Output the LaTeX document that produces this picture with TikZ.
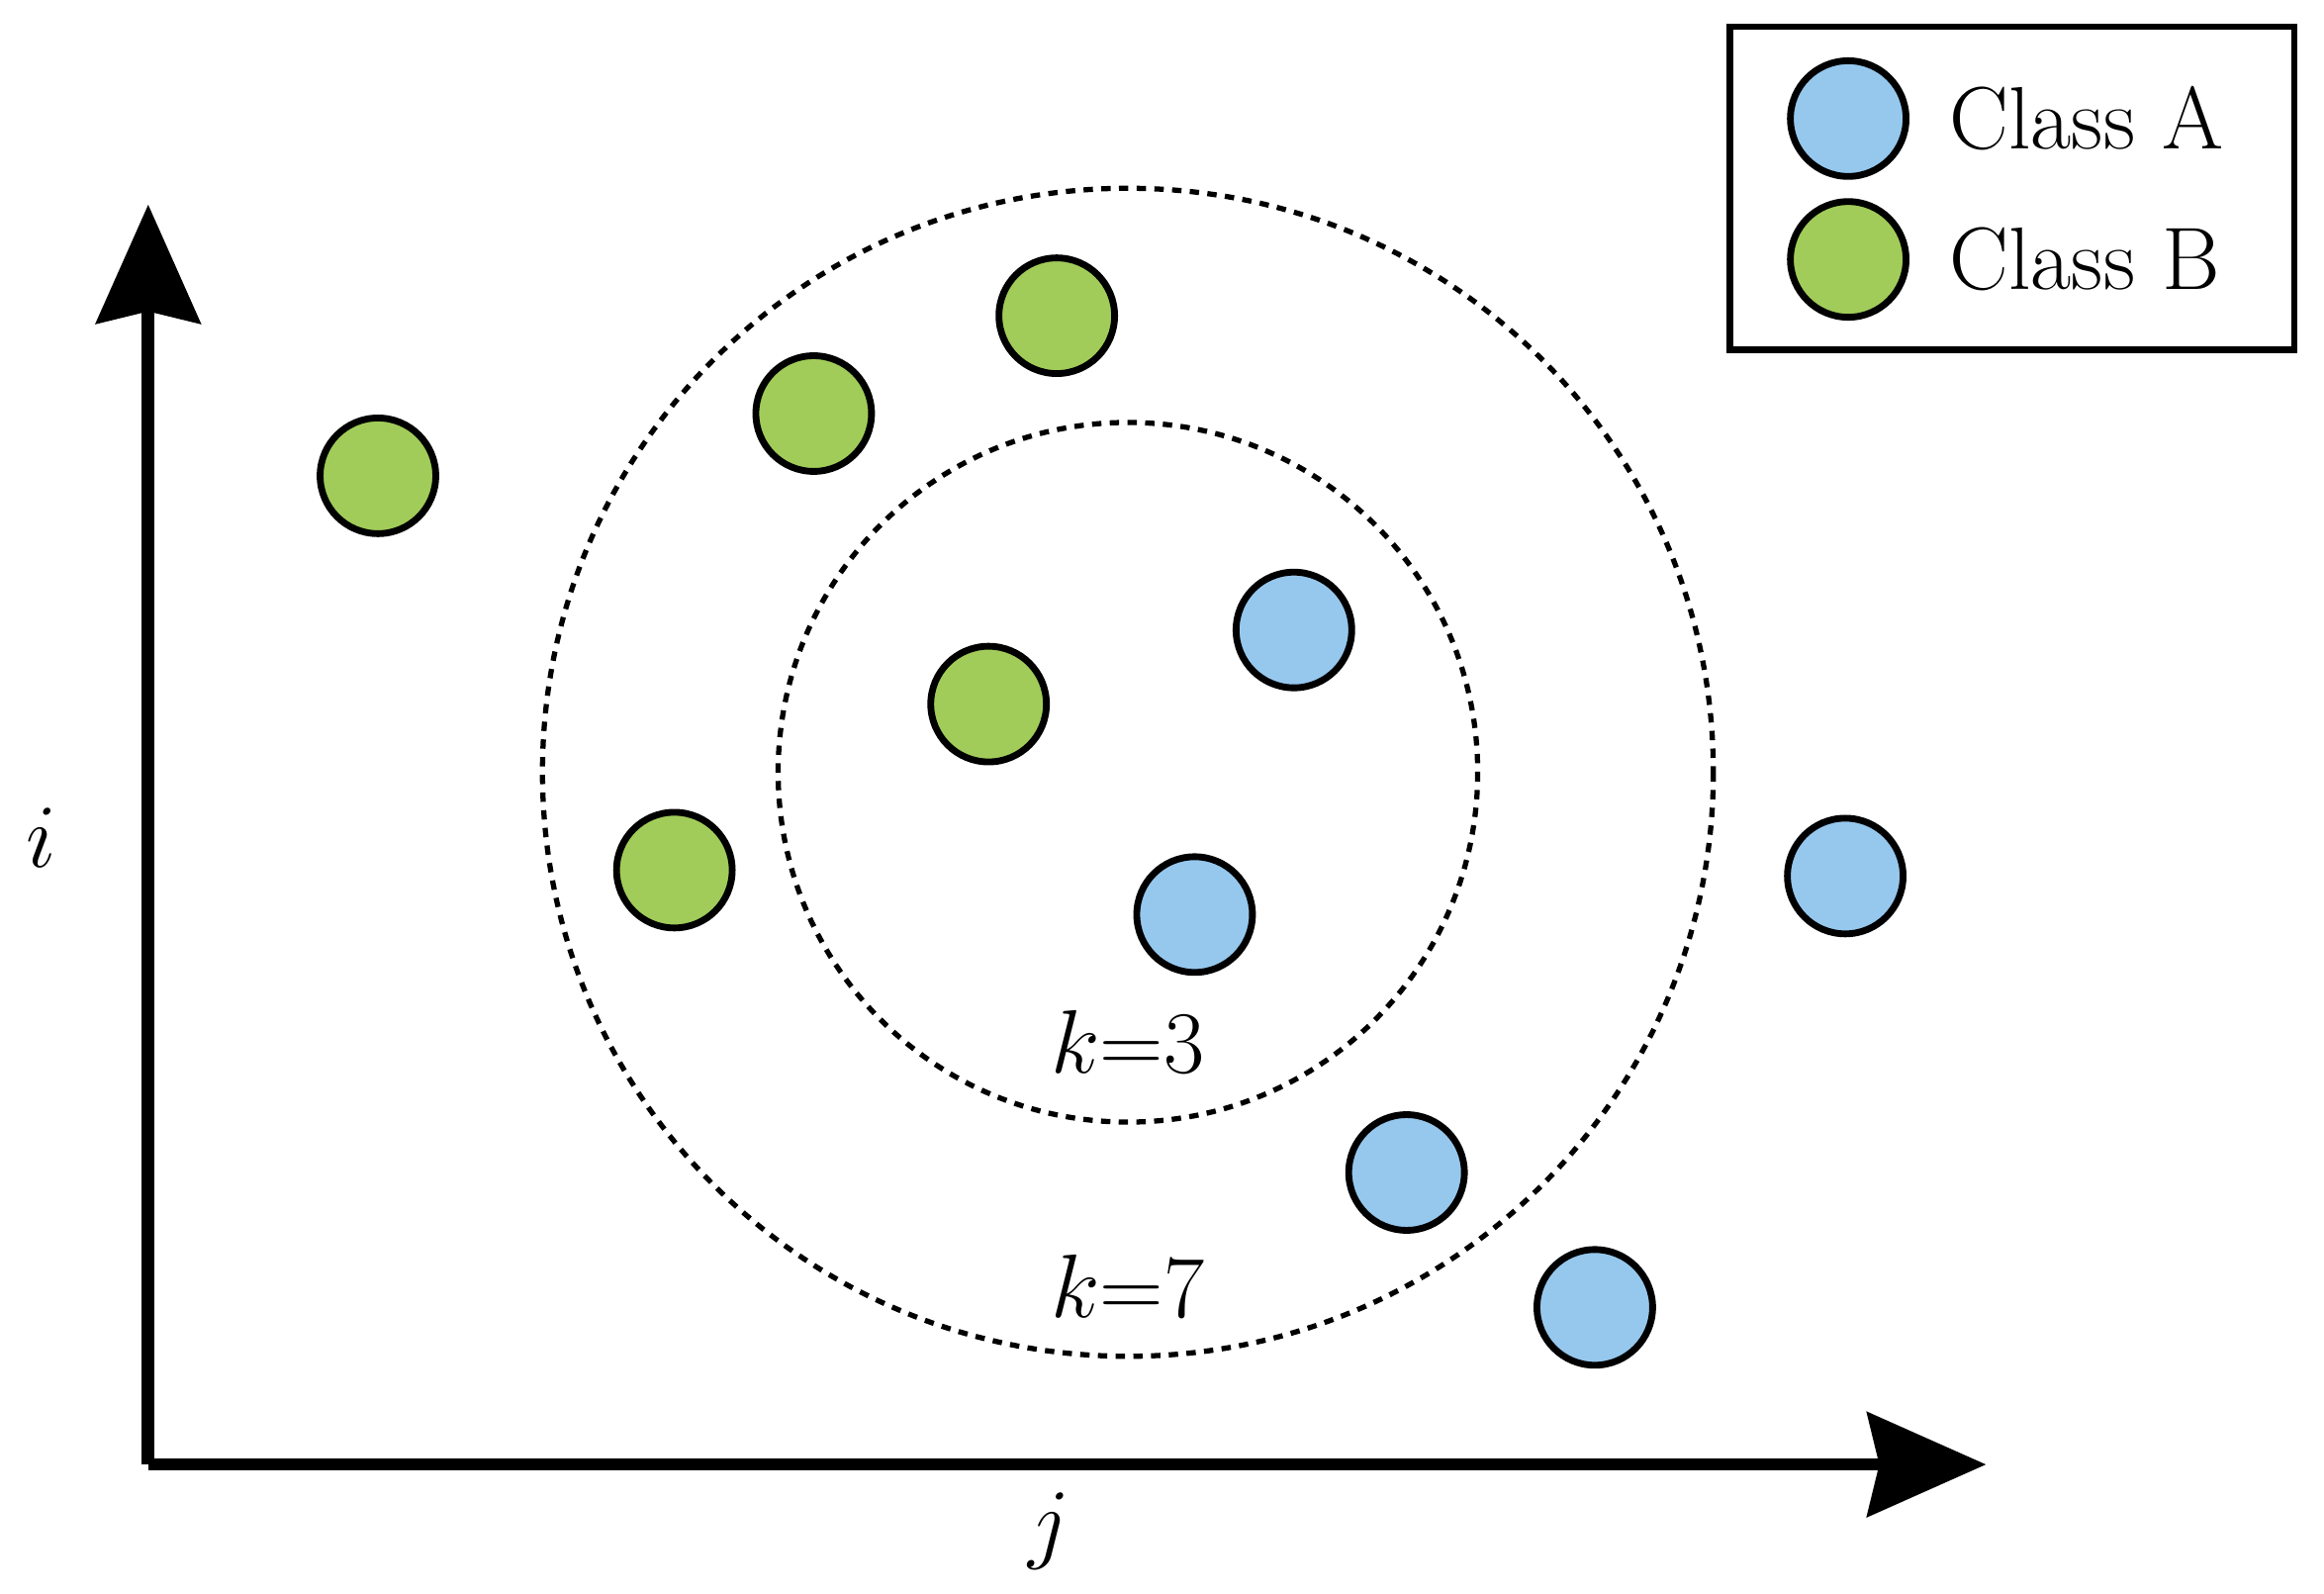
\documentclass[tikz,border=0pt]{standalone}
\usetikzlibrary{arrows.meta}
\definecolor{clsA}{RGB}{150,200,238}
\definecolor{clsB}{RGB}{161,204,89}
\begin{document}
\begin{tikzpicture}[x=0.01cm,y=-0.01cm,
  pt/.style={circle,draw=black,line width=1.3pt,minimum size=0.78cm,inner sep=0pt},
  A/.style={pt,fill=clsA},
  B/.style={pt,fill=clsB},
  axis/.style={line width=2.4pt,-{Stealth[length=0.8cm,width=0.7cm,inset=0.08cm]}},
  ring/.style={dash pattern=on 1.8pt off 1.6pt,line width=1pt},
  lbl/.style={font=\fontsize{17}{20}\selectfont}]
\useasboundingbox (0,0) rectangle (1568,1075);
% axes
\coordinate (o) at (100,988);
\coordinate (ytip) at (100,138);
\coordinate (xtip) at (1340,988);
\draw[axis] (o) -- (ytip);
\draw[axis] (o) -- (xtip);
\node[lbl] (li) at (28,565) {$i$};
\node[lbl] (lj) at (708,1033) {$j$};
% rings
\coordinate (c) at (761,521);
\draw[ring] (c) circle[radius=236];
\draw[ring] (c) ellipse[x radius=395,y radius=394];
\node[lbl] (k3) at (761,703) {$k$=3};
\node[lbl] (k7) at (761,868) {$k$=7};
% points
\node[B] (b1) at (255,321) {};
\node[B] (b2) at (549,279) {};
\node[B] (b3) at (713,213) {};
\node[B] (b4) at (667,475) {};
\node[B] (b5) at (455,587) {};
\node[A] (a1) at (873,425) {};
\node[A] (a2) at (806,617) {};
\node[A] (a3) at (1245,591) {};
\node[A] (a4) at (949,791) {};
\node[A] (a5) at (1076,882) {};
% legend
\draw[line width=1.3pt] (1167,18) rectangle (1548,236);
\node[A] (la) at (1247,80) {};
\node[B] (lb) at (1247,175) {};
\node[lbl,anchor=west] (ta) at (1303,80) {Class A};
\node[lbl,anchor=west] (tb) at (1303,175) {Class B};
\end{tikzpicture}
\end{document}
